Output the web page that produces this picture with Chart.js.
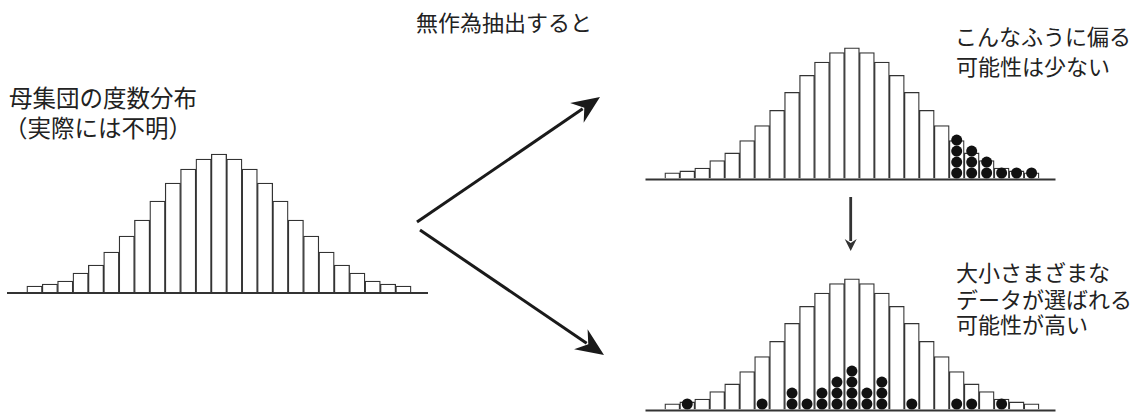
<!DOCTYPE html>
<html><head><meta charset="utf-8">
<script src="https://cdn.jsdelivr.net/npm/chart.js@4"></script>
<style>
html,body{margin:0;padding:0;background:#fff;width:1146px;height:418px;overflow:hidden}
body{position:relative}
canvas.h{position:absolute}
.t{position:absolute;font-family:"Noto Sans CJK JP","Noto Sans CJK SC",sans-serif;font-size:22px;color:#222;white-space:nowrap;line-height:30px}
.big{font-size:23.5px}
svg{position:absolute;left:0;top:0}
</style></head><body>

<div class="t" style="left:416px;top:6px">無作為抽出すると</div>
<div class="t big" style="left:9px;top:82px">母集団の度数分布</div>
<div class="t big" style="left:4px;top:112px">（実際には不明）</div>
<div class="t" style="left:955px;top:20px">こんなふうに偏る</div>
<div class="t" style="left:956px;top:50px">可能性は少ない</div>
<div class="t" style="left:956px;top:256px">大小さまざまな</div>
<div class="t" style="left:956px;top:283px">データが選ばれる</div>
<div class="t" style="left:956px;top:308px">可能性が高い</div>

<canvas class="h" id="popChart" width="421" height="153" style="left:7px;top:142px;width:421px;height:153px"></canvas>
<canvas class="h" id="skewChart" width="421" height="153" style="left:640px;top:31px;width:421px;height:153px"></canvas>
<canvas class="h" id="typChart" width="421" height="153" style="left:640px;top:262px;width:421px;height:153px"></canvas>

<svg id="arrows" width="1146" height="418"></svg>

<script>
// ---- data ----
const binLabels = [1,2,3,4,5,6,7,8,9,10,11,12,13,14,15,16,17,18,19,20,21,22,23,24,25];
const populationCounts = [6,8,11,19,27,40,56,72,91,109,123,133,138,133,123,109,91,72,56,40,27,19,11,8,6];
// number of sampled data points (dots) falling in each bin
const skewedSampleCounts  = [0,0,0,0,0,0,0,0,0,0,0,0,0,0,0,0,0,0,0,4,3,2,1,1,1];
const typicalSampleCounts = [0,1,0,0,0,0,1,0,2,1,2,3,4,2,3,0,1,0,0,1,1,0,1,0,0];

// ---- style ----
const DOT_STEP = 11.6;   // vertical spacing of stacked dots (y units)
const LINE = '#333';

const baselinePlugin = {
  id: 'baseline',
  afterDatasetsDraw(chart) {
    const {ctx, chartArea} = chart;
    ctx.save();
    ctx.strokeStyle = LINE;
    ctx.lineWidth = 2;
    ctx.beginPath();
    ctx.moveTo(chartArea.left, chartArea.bottom + 1);
    ctx.lineTo(chartArea.right, chartArea.bottom + 1);
    ctx.stroke();
    ctx.restore();
  }
};

function makeChart(id, sampleCounts) {
  const bars = binLabels.map((b, i) => ({x: b, y: populationCounts[i]}));
  const dots = [];
  if (sampleCounts) {
    sampleCounts.forEach((n, i) => {
      for (let k = 0; k < n; k++) dots.push({x: binLabels[i], y: (k + 0.5) * DOT_STEP});
    });
  }
  const datasets = [
    {type: 'bar', data: bars, backgroundColor: '#fff', borderColor: LINE, borderWidth: 1.3,
     borderSkipped: 'start', barPercentage: 1, categoryPercentage: 1, order: 1}
  ];
  if (dots.length) {
    datasets.unshift({type: 'scatter', data: dots, pointRadius: 5.5, pointBackgroundColor: '#111',
      pointBorderWidth: 0, backgroundColor: '#111', borderWidth: 0, order: 0, clip: false});
  }
  new Chart(document.getElementById(id), {
    type: 'bar',
    data: {datasets},
    options: {
      responsive: false, animation: false, events: [],
      layout: {padding: {top: 0, bottom: 3, left: 0, right: 0}},
      plugins: {legend: {display: false}, tooltip: {enabled: false}, title: {display: false}},
      scales: {
        x: {type: 'linear', min: -0.79, max: 26.6, offset: false, display: false,
            grid: {offset: false},
            afterBuildTicks: s => { s.ticks = binLabels.map(v => ({value: v})); }},
        y: {min: 0, max: 150, display: false}
      }
    },
    plugins: [baselinePlugin]
  });
}

makeChart('popChart', null);
makeChart('skewChart', skewedSampleCounts);
makeChart('typChart', typicalSampleCounts);

// ---- arrows (annotation) ----
function arrow(svg, x1, y1, x2, y2, len, half, notch, lw, color) {
  const dx = x2 - x1, dy = y2 - y1, d = Math.hypot(dx, dy);
  const ux = dx / d, uy = dy / d, px = -uy, py = ux;
  const ex = x2 - ux * (notch + 2), ey = y2 - uy * (notch + 2);
  const ns = 'http://www.w3.org/2000/svg';
  const l = document.createElementNS(ns, 'line');
  l.setAttribute('x1', x1); l.setAttribute('y1', y1);
  l.setAttribute('x2', ex); l.setAttribute('y2', ey);
  l.setAttribute('stroke', color); l.setAttribute('stroke-width', lw);
  svg.appendChild(l);
  const bx = x2 - ux * len, by = y2 - uy * len;
  const nx = x2 - ux * notch, ny = y2 - uy * notch;
  const pts = [[x2, y2], [bx + px * half, by + py * half], [nx, ny], [bx - px * half, by - py * half]];
  const p = document.createElementNS(ns, 'polygon');
  p.setAttribute('points', pts.map(q => q.join(',')).join(' '));
  p.setAttribute('fill', color);
  svg.appendChild(p);
}
const svg = document.getElementById('arrows');
arrow(svg, 417, 222, 600, 97, 28, 12, 19, 3, '#1a1a1a');
arrow(svg, 420, 230, 604, 355, 28, 12, 19, 3, '#1a1a1a');
arrow(svg, 850.7, 197, 850.7, 251, 12, 6, 8, 2.8, '#333');
</script>
</body></html>
